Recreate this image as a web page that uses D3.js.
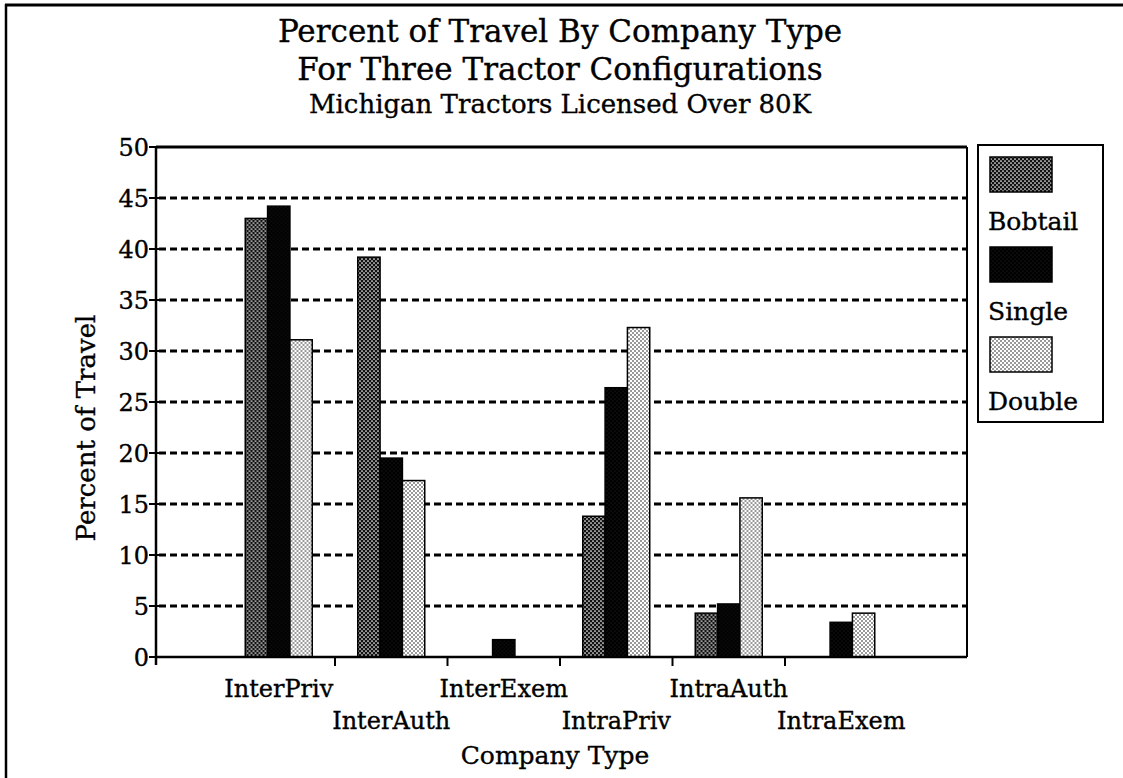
<!DOCTYPE html>
<html>
<head>
<meta charset="utf-8">
<script src="https://cdn.jsdelivr.net/npm/d3@7"></script>
<style>
  body { margin: 0; background: #fff; }
  svg text { font-family: "DejaVu Serif", "Liberation Serif", serif; fill: #000; stroke: #000; stroke-width: 0.35px; }
</style>
</head>
<body>
<svg id="chart" width="1123" height="778"></svg>
<script>
const categories = ["InterPriv", "InterAuth", "InterExem", "IntraPriv", "IntraAuth", "IntraExem"];
const seriesNames = ["Bobtail", "Single", "Double"];
const bobtail = [43.0, 39.2, 0, 13.8, 4.3, 0];
const single = [44.2, 19.5, 1.7, 26.4, 5.2, 3.4];
const double = [31.1, 17.3, 0, 32.3, 15.6, 4.3];
const yTicks = [0, 5, 10, 15, 20, 25, 30, 35, 40, 45, 50];
const titleLines = ["Percent of Travel By Company Type", "For Three Tractor Configurations", "Michigan Tractors Licensed Over 80K"];

const svg = d3.select("#chart");
const defs = svg.append("defs");

// dot-screen fills like the old print
function dotPattern(id, bg, dot, r) {
  const p = defs.append("pattern").attr("id", id)
    .attr("patternUnits", "userSpaceOnUse").attr("width", 4).attr("height", 4);
  p.append("rect").attr("width", 4).attr("height", 4).attr("fill", bg);
  [[1, 1], [3, 3]].forEach(([cx, cy]) =>
    p.append("circle").attr("cx", cx).attr("cy", cy).attr("r", r).attr("fill", dot));
}
dotPattern("pat-bobtail", "#111", "#fff", 0.85);
dotPattern("pat-single", "#000", "#2a2a2a", 0.6);
dotPattern("pat-double", "#fff", "#000", 0.75);
const fills = { Bobtail: "url(#pat-bobtail)", Single: "url(#pat-single)", Double: "url(#pat-double)" };

const plotL = 156, plotR = 967, plotT = 147, plotB = 657;

const y = d3.scaleLinear().domain([0, 50]).range([plotB, plotT]);
const x = d3.scaleBand().domain(categories).range([222.5, 897.5]).padding(0);
const xs = d3.scaleBand().domain(seriesNames)
  .range([x.bandwidth() / 2 - 33.5, x.bandwidth() / 2 + 33.5]);

// outer frame (top and left edges only)
svg.append("line").attr("x1", 5).attr("x2", 1123).attr("y1", 5).attr("y2", 5)
  .attr("stroke", "#000").attr("stroke-width", 3);
svg.append("line").attr("x1", 6).attr("x2", 6).attr("y1", 4).attr("y2", 778)
  .attr("stroke", "#000").attr("stroke-width", 2.5);

// titles
const tSizes = [31, 31, 26];
const tY = [42, 80, 113];
titleLines.forEach((t, i) => {
  svg.append("text").attr("x", 560).attr("y", tY[i])
    .attr("text-anchor", "middle").attr("font-size", tSizes[i]).text(t);
});

// grid lines
svg.append("g").selectAll("line")
  .data(yTicks.filter(v => v > 0 && v < 50))
  .join("line")
  .attr("x1", plotL + 3).attr("x2", plotR - 1)
  .attr("y1", d => y(d)).attr("y2", d => y(d))
  .attr("stroke", "#000").attr("stroke-width", 3).attr("stroke-dasharray", "7,4");

// frame of plot
svg.append("line").attr("x1", plotL).attr("x2", plotR).attr("y1", y(50)).attr("y2", y(50))
  .attr("stroke", "#000").attr("stroke-width", 3);
svg.append("line").attr("x1", plotR).attr("x2", plotR).attr("y1", y(50)).attr("y2", y(0))
  .attr("stroke", "#000").attr("stroke-width", 2);

// bars
const rows = categories.map((c, i) => ({
  cat: c,
  vals: [
    { s: "Bobtail", v: bobtail[i] },
    { s: "Single", v: single[i] },
    { s: "Double", v: double[i] }
  ]
}));
svg.append("g").selectAll("g")
  .data(rows)
  .join("g")
  .attr("transform", d => `translate(${x(d.cat)},0)`)
  .selectAll("rect")
  .data(d => d.vals.filter(e => e.v > 0))
  .join("rect")
  .attr("x", d => xs(d.s))
  .attr("width", xs.bandwidth())
  .attr("y", d => y(d.v))
  .attr("height", d => y(0) - y(d.v))
  .attr("fill", d => fills[d.s])
  .attr("stroke", "#000").attr("stroke-width", 1.5);

// axes
svg.append("line").attr("x1", plotL).attr("x2", plotR).attr("y1", y(0)).attr("y2", y(0))
  .attr("stroke", "#000").attr("stroke-width", 2.5);
svg.append("line").attr("x1", plotL).attr("x2", plotL).attr("y1", y(50)).attr("y2", y(0) + 8)
  .attr("stroke", "#000").attr("stroke-width", 2.5);

const yAxis = svg.append("g");
yAxis.selectAll("line").data(yTicks).join("line")
  .attr("x1", plotL - 7).attr("x2", plotL + 4)
  .attr("y1", d => y(d)).attr("y2", d => y(d))
  .attr("stroke", "#000").attr("stroke-width", 2);
yAxis.selectAll("text").data(yTicks).join("text")
  .attr("x", plotL - 7).attr("y", d => y(d) + 9)
  .attr("text-anchor", "end").attr("font-size", 24)
  .text(d => d);

// x ticks at category boundaries
svg.append("g").selectAll("line")
  .data(categories.slice(1))
  .join("line")
  .attr("x1", d => x(d)).attr("x2", d => x(d))
  .attr("y1", y(0)).attr("y2", y(0) + 9)
  .attr("stroke", "#000").attr("stroke-width", 2);

svg.append("g").selectAll("text")
  .data(categories)
  .join("text")
  .attr("x", d => x(d) + x.bandwidth() / 2)
  .attr("y", (d, i) => i % 2 === 0 ? 697 : 729)
  .attr("text-anchor", "middle").attr("font-size", 24)
  .text(d => d);

svg.append("text").attr("x", 555).attr("y", 764)
  .attr("text-anchor", "middle").attr("font-size", 25).text("Company Type");

svg.append("text")
  .attr("transform", `translate(95,428) rotate(-90)`)
  .attr("text-anchor", "middle").attr("font-size", 26).text("Percent of Travel");

// legend
const lg = svg.append("g");
lg.append("rect").attr("x", 978).attr("y", 145).attr("width", 125).attr("height", 277)
  .attr("fill", "#fff").attr("stroke", "#000").attr("stroke-width", 2);
const lgY = d3.scalePoint().domain(seriesNames).range([157, 337]);
lg.selectAll(".sw").data(seriesNames).join("rect").attr("class", "sw")
  .attr("x", 990).attr("y", d => lgY(d)).attr("width", 62).attr("height", 35)
  .attr("fill", d => fills[d]).attr("stroke", "#000").attr("stroke-width", 1.5);
lg.selectAll("text").data(seriesNames).join("text")
  .attr("x", 988).attr("y", d => lgY(d) + 73)
  .attr("font-size", 25).text(d => d);
</script>
</body>
</html>
